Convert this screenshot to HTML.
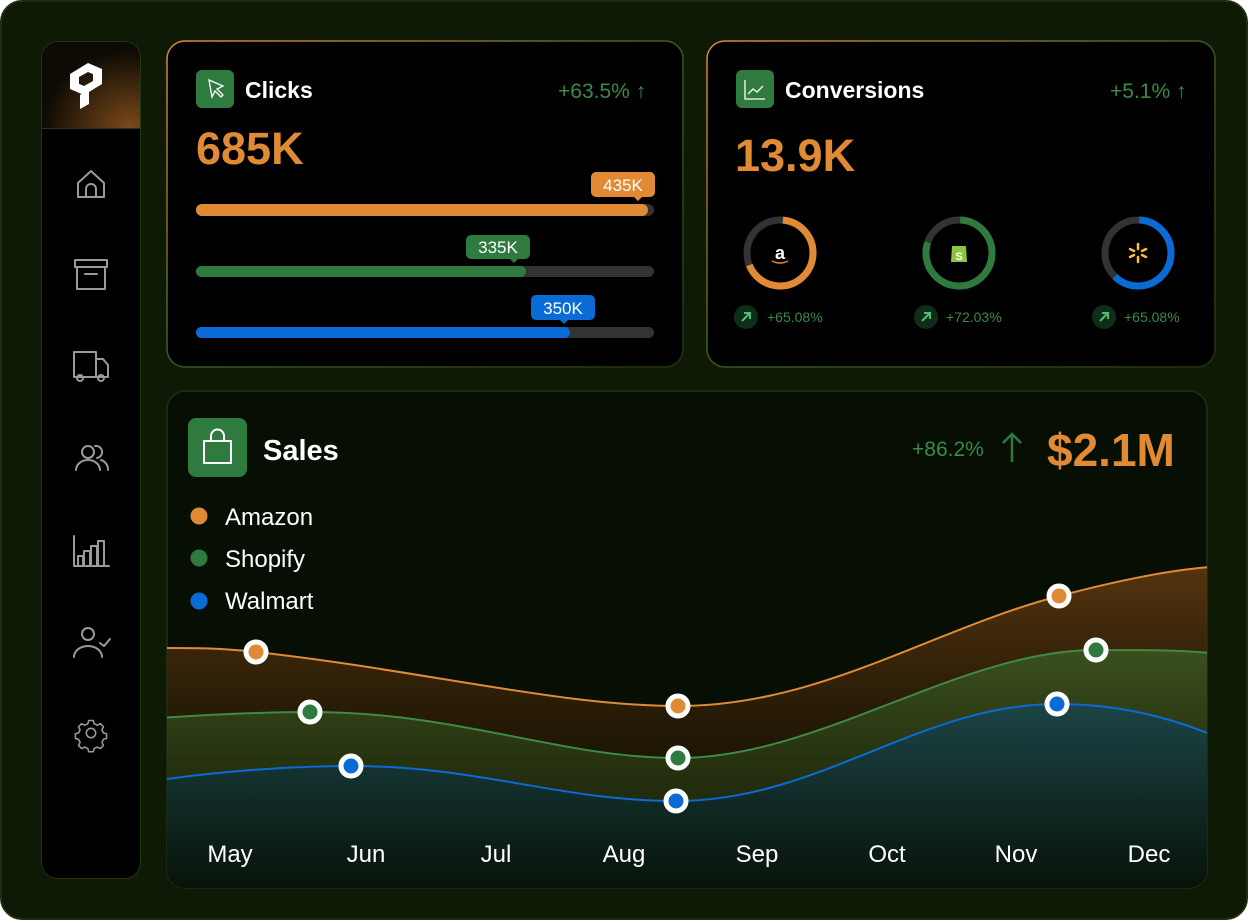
<!DOCTYPE html>
<html><head><meta charset="utf-8"><style>
*{margin:0;padding:0;box-sizing:border-box}
body{width:1248px;height:920px;background:#fff;font-family:"Liberation Sans",sans-serif;overflow:hidden}
#f{position:absolute;left:0;top:0;width:1248px;height:920px;border-radius:22px;background:#0e1906;border:2px solid #1b300e}
.abs{position:absolute}
</style></head><body>
<div id="f"></div>
<svg class="abs" style="left:0;top:0" width="1248" height="920" viewBox="0 0 1248 920">
<defs>
<linearGradient id="cb" x1="0" y1="0" x2="1" y2="1"><stop offset="0" stop-color="#e08a35"/><stop offset="0.5" stop-color="#3a5a20"/><stop offset="1" stop-color="#1e3512"/></linearGradient>
<linearGradient id="dv" x1="0" y1="0" x2="0" y2="1"><stop offset="0" stop-color="#e08a35"/><stop offset="1" stop-color="#2f7a3e"/></linearGradient>
<linearGradient id="ga" x1="0" y1="0" x2="0" y2="1"><stop offset="0" stop-color="#5e3810" stop-opacity="0.9"/><stop offset="0.6" stop-color="#2a1a05" stop-opacity="0.6"/></linearGradient>
<linearGradient id="gs" x1="0" y1="0" x2="0" y2="1"><stop offset="0" stop-color="#3a5420" stop-opacity="0.9"/><stop offset="1" stop-color="#1a2a0c" stop-opacity="0.4"/></linearGradient>
<linearGradient id="gw" x1="0" y1="0" x2="0" y2="1"><stop offset="0" stop-color="#1c4446"/><stop offset="1" stop-color="#071209"/></linearGradient>
<radialGradient id="lg" cx="0.9" cy="1" r="0.9"><stop offset="0" stop-color="#7a4a1a"/><stop offset="1" stop-color="#0e0a04"/></radialGradient>
<clipPath id="sc"><rect x="167" y="391" width="1040" height="497" rx="18"/></clipPath>
</defs>
<rect x="41.5" y="41.5" width="99" height="837" rx="16" fill="#000" stroke="#1f3812"/>
<path d="M42 128V58a16 16 0 0 1 16-16h66a16 16 0 0 1 16 16v70z" fill="url(#lg)"/>
<line x1="42" y1="128.5" x2="140" y2="128.5" stroke="#1f3812"/>
<g fill="#fff">
<path d="M70 74l18-11 14 6v9l-14-6-9 5v10l-9-3z"/>
<path d="M112 0z"/>
<path d="M102 84l-18 11-14-6v-9l14 6 9-5V71l9 3z"/>
<path d="M80 95l9-5v14l-9 5z"/>
</g>
<g fill="none" stroke="#9a9a9a" stroke-width="2" stroke-linecap="round" stroke-linejoin="round">
<path d="M78 197v-14l13-12 13 12v14zM86 197v-8a5 5 0 0 1 10 0v8"/>
<rect x="75" y="260" width="32" height="7"/><path d="M77 267v22h28v-22M85 274h12"/>
<path d="M74 352h22v25H74zM96 359h7l5 6v12h-12"/><circle cx="80" cy="378" r="3"/><circle cx="101" cy="378" r="3"/>
<circle cx="88" cy="452" r="6"/><path d="M76 470a12 10 0 0 1 24 0M95 446a6 6 0 1 1 2 12M101 460a10 10 0 0 1 7 10"/>
<path d="M74 536v30h35M78 566v-10h5v10M84 566v-15h6v15M91 566v-20h6v20M98 566v-25h6v25"/>
<circle cx="88" cy="634" r="6"/><path d="M74 657a14 11 0 0 1 28 0M100 643l4 3 6-7"/>
<g transform="translate(91 733) scale(0.78) translate(-91 -733)">
<circle cx="91" cy="733" r="6"/><path d="M88 717h6l1 4 4 2 4-2 4 4-2 4 2 4 4 1v6l-4 1-2 4 2 4-4 4-4-2-4 2-1 4h-6l-1-4-4-2-4 2-4-4 2-4-2-4-4-1v-6l4-1 2-4-2-4 4-4 4 2 4-2z"/></g>
</g>
<rect x="167" y="41" width="516" height="326" rx="18" fill="#000" stroke="url(#cb)" stroke-width="1.5"/>
<rect x="196" y="70" width="38" height="38" rx="6" fill="#2f7a3e"/>
<path d="M209 80l3 17 3-6 6 6 2-2-6-6 6-3z" fill="none" stroke="#fff" stroke-width="1.3"/>
<rect x="196" y="204" width="458" height="12" rx="6" fill="#333"/><rect x="196" y="204" width="452" height="12" rx="6" fill="#e08a35"/>
<rect x="196" y="266" width="458" height="11" rx="5.5" fill="#333"/><rect x="196" y="266" width="330" height="11" rx="5.5" fill="#2f7a3e"/>
<rect x="196" y="327" width="458" height="11" rx="5.5" fill="#333"/><rect x="196" y="327" width="374" height="11" rx="5.5" fill="#0a6ad6"/>
<rect x="591" y="172" width="64" height="25" rx="5" fill="#e08a35"/><path d="M634 197l4 4 4-4z" fill="#e08a35"/>
<rect x="466" y="235" width="64" height="24" rx="5" fill="#2f7a3e"/><path d="M510 259l4 4 4-4z" fill="#2f7a3e"/>
<rect x="531" y="295" width="64" height="25" rx="5" fill="#0a6ad6"/><path d="M560 320l4 4 4-4z" fill="#0a6ad6"/>
<g font-family="Liberation Sans" font-size="17" fill="#fff" text-anchor="middle"><text x="623" y="191">435K</text><text x="498" y="253">335K</text><text x="563" y="314">350K</text></g>
<text x="245" y="98" font-size="23" fill="#fff" font-weight="600">Clicks</text>
<text x="558" y="98" font-size="21" fill="#3a8a4a">+63.5% ↑</text>
<text x="196" y="164" font-size="45" font-weight="bold" fill="#e08a35">685K</text>
<rect x="707" y="41" width="508" height="326" rx="18" fill="#000" stroke="url(#cb)" stroke-width="1.5"/>
<rect x="736" y="70" width="38" height="38" rx="6" fill="#2f7a3e"/>
<path d="M745 80v19h20M748 94l5-5 4 3 6-6" fill="none" stroke="#fff" stroke-width="1.3"/>
<text x="785" y="98" font-size="23" fill="#fff" font-weight="600">Conversions</text>
<text x="1110" y="98" font-size="21" fill="#3a8a4a">+5.1% ↑</text>
<text x="735" y="171" font-size="45" font-weight="bold" fill="#e08a35">13.9K</text>
<line x1="872" y1="216" x2="872" y2="330" stroke="url(#dv)" stroke-width="2"/>
<line x1="1048" y1="216" x2="1048" y2="330" stroke="url(#dv)" stroke-width="2"/>
<g fill="none" stroke-width="7">
<circle cx="780" cy="253" r="33" stroke="#333"/><circle cx="959" cy="253" r="33" stroke="#333"/><circle cx="1138" cy="253" r="33" stroke="#333"/>
<circle cx="780" cy="253" r="33" stroke="#e08a35" stroke-dasharray="140 300" transform="rotate(-85 780 253)"/>
<circle cx="959" cy="253" r="33" stroke="#2f7a3e" stroke-dasharray="165 300" transform="rotate(-88 959 253)"/>
<circle cx="1138" cy="253" r="33" stroke="#0a6ad6" stroke-dasharray="128 300" transform="rotate(-88 1138 253)"/>
</g>
<text x="780" y="259" font-size="18" font-weight="bold" fill="#fff" text-anchor="middle">a</text>
<path d="M772 261q8 4 16 0" stroke="#e08a35" stroke-width="1.5" fill="none"/>
<path d="M952 246h14l1 16h-16z" fill="#8cc63f"/><text x="959" y="260" font-size="11" font-weight="bold" fill="#fff" text-anchor="middle">S</text>
<g stroke="#ffc220" stroke-width="2.5" stroke-linecap="round"><path d="M1138 244v5M1138 257v5M1130 249l4 2M1142 255l4 2M1130 257l4-2M1142 251l4-2"/></g>
<g fill="#0f2e1a"><circle cx="746" cy="317" r="12"/><circle cx="926" cy="317" r="12"/><circle cx="1104" cy="317" r="12"/></g>
<g stroke="#4cc070" stroke-width="2" fill="none"><path d="M742 321l8-8M744 313h6v6"/><path d="M922 321l8-8M924 313h6v6"/><path d="M1100 321l8-8M1102 313h6v6"/></g>
<g font-size="14" fill="#3a8a4a"><text x="767" y="322">+65.08%</text><text x="946" y="322">+72.03%</text><text x="1124" y="322">+65.08%</text></g>
<rect x="167" y="391" width="1040" height="497" rx="18" fill="#070f04" stroke="#1c3210" stroke-width="1.5"/>
<g clip-path="url(#sc)">
<path d="M160 648C200 648 220 648 256 652C420 670 560 706 678 706C820 706 930 630 1059 596C1120 580 1170 570 1210 567V890H160z" fill="url(#ga)"/>
<path d="M160 718C220 714 270 712 310 712C460 712 560 758 678 758C820 758 960 650 1096 650C1150 650 1180 650 1210 653V890H160z" fill="url(#gs)"/>
<path d="M160 780C230 770 300 766 351 766C480 766 560 801 676 801C820 801 920 704 1057 704C1120 704 1170 718 1210 734V890H160z" fill="url(#gw)"/>
<path d="M160 648C200 648 220 648 256 652C420 670 560 706 678 706C820 706 930 630 1059 596C1120 580 1170 570 1210 567" fill="none" stroke="#e08a35" stroke-width="2"/>
<path d="M160 718C220 714 270 712 310 712C460 712 560 758 678 758C820 758 960 650 1096 650C1150 650 1180 650 1210 653" fill="none" stroke="#3f8a45" stroke-width="2"/>
<path d="M160 780C230 770 300 766 351 766C480 766 560 801 676 801C820 801 920 704 1057 704C1120 704 1170 718 1210 734" fill="none" stroke="#0a6ad6" stroke-width="2"/>
</g>
<g stroke="#fff" stroke-width="5">
<circle cx="256" cy="652" r="10" fill="#e08a35"/><circle cx="678" cy="706" r="10" fill="#e08a35"/><circle cx="1059" cy="596" r="10" fill="#e08a35"/>
<circle cx="310" cy="712" r="10" fill="#2f7a3e"/><circle cx="678" cy="758" r="10" fill="#2f7a3e"/><circle cx="1096" cy="650" r="10" fill="#2f7a3e"/>
<circle cx="351" cy="766" r="10" fill="#0a6ad6"/><circle cx="676" cy="801" r="10" fill="#0a6ad6"/><circle cx="1057" cy="704" r="10" fill="#0a6ad6"/>
</g>
<rect x="188" y="418" width="59" height="59" rx="8" fill="#2f7a3e"/>
<path d="M204 441h27v22h-27zM211 441v-5a6.5 6.5 0 0 1 13 0v5" fill="none" stroke="#fff" stroke-width="2"/>
<text x="263" y="460" font-size="29" font-weight="bold" fill="#fff">Sales</text>
<text x="912" y="456" font-size="21" fill="#3a8a4a">+86.2%</text>
<path d="M1012 462v-28M1003 443l9-9 9 9" stroke="#2f7a3e" stroke-width="2.5" fill="none"/>
<text x="1047" y="466" font-size="46" font-weight="bold" fill="#e08a35">$2.1M</text>
<circle cx="199" cy="516" r="8.5" fill="#e08a35"/><circle cx="199" cy="558" r="8.5" fill="#2f7a3e"/><circle cx="199" cy="601" r="8.5" fill="#0a6ad6"/>
<g font-size="24" fill="#fff"><text x="225" y="525">Amazon</text><text x="225" y="567">Shopify</text><text x="225" y="609">Walmart</text></g>
<g font-size="24" fill="#fff" text-anchor="middle"><text x="230" y="862">May</text><text x="366" y="862">Jun</text><text x="496" y="862">Jul</text><text x="624" y="862">Aug</text><text x="757" y="862">Sep</text><text x="887" y="862">Oct</text><text x="1016" y="862">Nov</text><text x="1149" y="862">Dec</text></g>
</svg>
</body></html>
